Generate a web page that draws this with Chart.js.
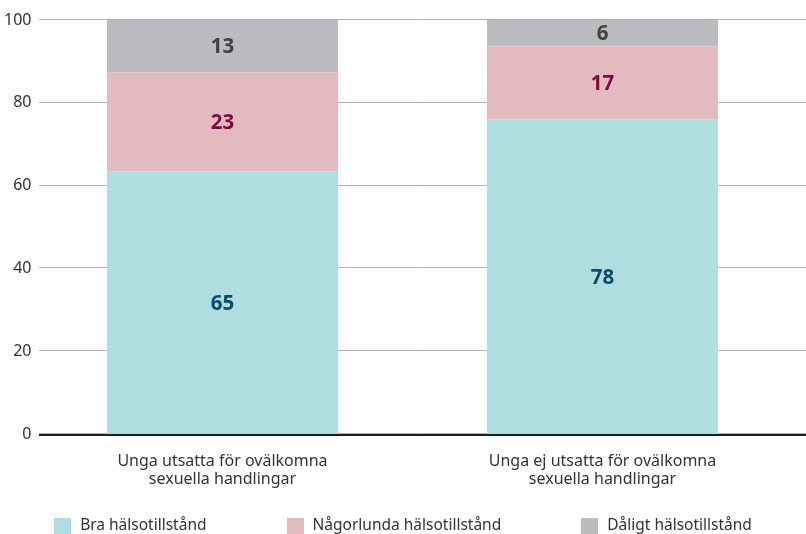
<!DOCTYPE html>
<html>
<head>
<meta charset="utf-8">
<script src="https://cdn.jsdelivr.net/npm/chart.js@4/dist/chart.umd.min.js"></script>
<style>
  html, body { margin: 0; padding: 0; background: #fff; }
  #wrap { width: 806px; height: 534px; position: relative; }
</style>
</head>
<body>
<div id="wrap"><canvas id="chart" width="806" height="534"></canvas></div>
<script>
// categories (two-line tick labels)
const categories = [
  ["Unga utsatta för ovälkomna", "sexuella handlingar"],
  ["Unga ej utsatta för ovälkomna", "sexuella handlingar"]
];
const seriesNames = ["Bra hälsotillstånd", "Någorlunda hälsotillstånd", "Dåligt hälsotillstånd"];

// segment heights as drawn in the picture (percent)
const braValues = [63.4, 76.0];
const nagorlundaValues = [24.0, 17.6];
const daligtValues = [12.6, 6.4];

// printed labels on the segments
const braLabels = [65, 78];
const nagorlundaLabels = [23, 17];
const daligtLabels = [13, 6];

const yTicks = [0, 20, 40, 60, 80, 100];

const colors = ["#b0dee0", "#e4bac1", "#bbbcc0"];
const labelColors = ["#0c4a6c", "#7a0b46", "#414141"];
const FONT = "'Noto Sans', 'Open Sans', sans-serif";

// gridlines run further than the category area, so draw them here
const gridPlugin = {
  id: "grid",
  beforeDatasetsDraw(chart) {
    const ctx = chart.ctx, y = chart.scales.y;
    ctx.save();
    ctx.strokeStyle = "#b4b4b4";
    ctx.lineWidth = 1;
    yTicks.forEach(v => {
      const py = Math.round(y.getPixelForValue(v)) - 0.5;
      ctx.beginPath();
      ctx.moveTo(39, py);
      ctx.lineTo(806, py);
      ctx.stroke();
    });
    ctx.restore();
  },
  afterDatasetsDraw(chart) {
    const ctx = chart.ctx, y = chart.scales.y;
    ctx.save();
    // zero line
    const py = Math.round(y.getPixelForValue(0)) + 1;
    ctx.strokeStyle = "#1e1e1e";
    ctx.lineWidth = 2;
    ctx.beginPath();
    ctx.moveTo(39, py);
    ctx.lineTo(806, py);
    ctx.stroke();

    // segment value labels
    const labelSets = [braLabels, nagorlundaLabels, daligtLabels];
    ctx.font = "bold 20.5px " + FONT;
    ctx.textAlign = "center";
    ctx.textBaseline = "middle";
    chart.data.datasets.forEach((ds, di) => {
      const meta = chart.getDatasetMeta(di);
      meta.data.forEach((bar, i) => {
        const top = Math.max(bar.y, chart.chartArea.top);
        const cy = (top + bar.base) / 2;
        ctx.fillStyle = labelColors[di];
        ctx.fillText(String(labelSets[di][i]), bar.x, cy + 1);
      });
    });
    ctx.restore();
  },
  afterDraw(chart) {
    // legend along the bottom
    const ctx = chart.ctx;
    ctx.save();
    ctx.font = "15.5px " + FONT;
    ctx.textBaseline = "middle";
    const box = 17, gapText = 9, gapItem = 80;
    const widths = chart.data.datasets.map(ds => box + gapText + ctx.measureText(ds.label).width);
    const total = widths.reduce((a, b) => a + b, 0) + gapItem * (widths.length - 1);
    let x = (chart.width - total) / 2;
    const cy = 526;
    chart.data.datasets.forEach((ds, i) => {
      ctx.fillStyle = ds.backgroundColor;
      ctx.fillRect(Math.round(x), cy - 8, box, box);
      ctx.fillStyle = "#333";
      ctx.fillText(ds.label, x + box + gapText, cy);
      x += widths[i] + gapItem;
    });
    ctx.restore();
  }
};

new Chart(document.getElementById("chart"), {
  type: "bar",
  data: {
    labels: categories,
    datasets: [
      { label: seriesNames[0], data: braValues, backgroundColor: colors[0] },
      { label: seriesNames[1], data: nagorlundaValues, backgroundColor: colors[1] },
      { label: seriesNames[2], data: daligtValues, backgroundColor: colors[2] }
    ]
  },
  options: {
    responsive: false,
    animation: false,
    layout: { padding: { top: 20, right: 13.5, left: 0, bottom: 0 } },
    datasets: { bar: { categoryPercentage: 1, barPercentage: 0.608, borderWidth: 0 } },
    plugins: { legend: { display: false }, tooltip: { enabled: false } },
    scales: {
      x: {
        stacked: true,
        grid: { display: false, drawTicks: false },
        border: { display: false },
        ticks: { color: "#333", font: { family: FONT, size: 16, lineHeight: 1.16 }, padding: 18, maxRotation: 0 },
        afterFit(scale) { scale.height = 100; }
      },
      y: {
        stacked: true,
        min: 0,
        max: 100,
        grid: { display: false, drawTicks: false },
        border: { display: false },
        ticks: { stepSize: 20, color: "#333", font: { family: FONT, size: 16 }, padding: 1 },
        afterFit(scale) { scale.width = 32.5; }
      }
    }
  },
  plugins: [gridPlugin]
});
</script>
</body>
</html>
